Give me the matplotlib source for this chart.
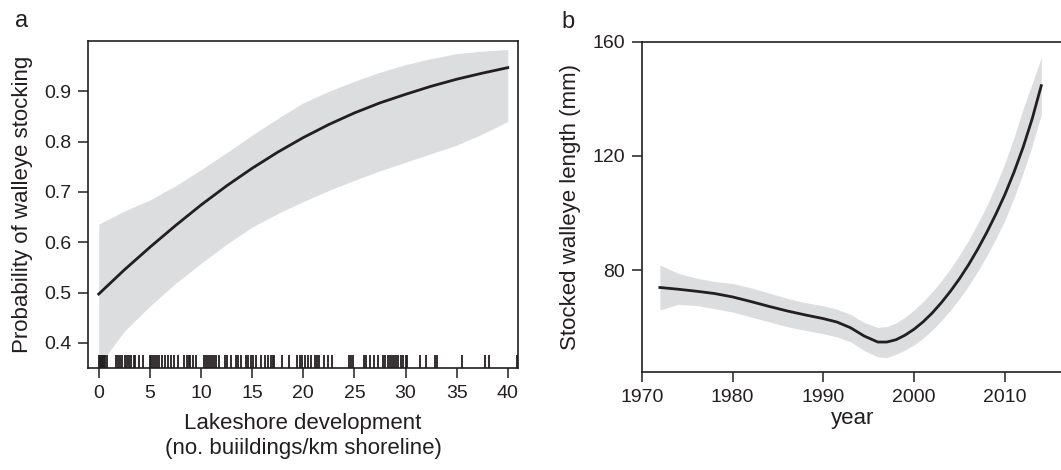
import matplotlib
matplotlib.use("Agg")
import matplotlib.pyplot as plt

plt.rcParams['font.family'] = ['Liberation Sans', 'DejaVu Sans']
ink = '#231f20'
band = '#dcdddf'

# panel a: probability of stocking vs lakeshore development
dev_x = [0, 2.5, 5, 7.5, 10, 12.5, 15, 17.5, 20, 22.5, 25, 27.5, 30, 32.5, 35, 37.5, 40]
prob_fit = [0.497, 0.545, 0.590, 0.633, 0.674, 0.712, 0.747, 0.779, 0.808, 0.834,
            0.857, 0.877, 0.894, 0.910, 0.924, 0.936, 0.947]
prob_hi = [0.636, 0.662, 0.684, 0.712, 0.744, 0.778, 0.813, 0.846, 0.877, 0.900,
           0.920, 0.938, 0.953, 0.965, 0.975, 0.980, 0.983]
prob_lo = [0.355, 0.423, 0.473, 0.518, 0.558, 0.596, 0.630, 0.657, 0.681, 0.703,
           0.723, 0.742, 0.759, 0.776, 0.793, 0.815, 0.840]
rug_x = [0.0, 0.1, 0.2, 0.3, 0.4, 0.5, 0.6, 0.8,
         1.7, 1.9, 2.1, 2.3, 2.6, 2.8, 3.0, 3.2, 3.4, 3.5, 3.9, 4.3,
         5.0, 5.1, 5.3, 5.5, 5.7, 5.9, 6.2, 6.5, 6.8, 7.1, 7.4, 7.8, 8.3, 8.6, 8.8, 8.9, 9.2, 9.5,
         10.3, 10.5, 10.7, 10.9, 11.1, 11.3, 11.5, 11.8, 12.3, 12.5, 12.9, 13.4, 13.6, 13.9,
         14.4, 14.6, 14.9, 15.1, 15.4, 15.9, 16.3, 16.6, 16.8, 17.0, 17.1, 17.9, 18.6,
         19.4, 19.7, 19.9, 20.2, 20.5, 20.8, 21.1, 21.3, 21.5, 22.0, 22.4, 22.8,
         24.5, 24.7, 24.9, 25.9, 26.1, 26.5, 26.9, 27.3, 27.8, 28.0, 28.3, 28.5, 28.7,
         28.9, 29.1, 29.3, 29.6, 29.8, 30.0, 30.1, 31.4, 32.0, 32.9, 33.1, 35.5, 37.8, 38.2,
         40.95]

# panel b: stocked walleye length by year
years = [1972, 1974, 1976, 1978, 1980, 1982, 1984, 1986, 1988, 1990, 1991.5, 1993,
         1994.5, 1996, 1997, 1998, 1999, 2000, 2001, 2002, 2003, 2004, 2005, 2006,
         2007, 2008, 2009, 2010, 2011, 2012, 2013, 2014]
len_fit = [73.9, 73.3, 72.6, 71.8, 70.6, 69.0, 67.3, 65.7, 64.3, 63.0, 61.8, 59.8,
           56.9, 54.8, 54.8, 55.6, 57.2, 59.3, 61.9, 65.0, 68.6, 72.6, 77.0, 81.9,
           87.3, 93.2, 99.6, 106.5, 114.3, 123.0, 133.0, 144.6]
len_hi = [81.8, 78.9, 77.2, 76.0, 75.3, 73.8, 72.0, 70.1, 68.6, 67.5, 66.3, 64.5,
          61.6, 59.9, 60.2, 61.5, 63.5, 66.0, 69.0, 72.5, 76.3, 80.5, 85.3, 90.5,
          96.3, 102.5, 109.7, 117.5, 126.5, 136.5, 145.3, 154.5]
len_lo = [66.0, 68.0, 67.6, 66.5, 65.3, 63.6, 61.9, 60.2, 58.9, 57.7, 56.6, 54.9,
          51.8, 49.6, 49.4, 50.5, 52.0, 53.8, 56.2, 59.0, 62.3, 66.0, 70.0, 74.5,
          79.5, 85.0, 91.0, 97.5, 105.3, 114.0, 123.5, 134.5]

fig = plt.figure(figsize=(10.61, 4.70), dpi=100)
ax1 = fig.add_axes([88 / 1061, 1 - 368 / 470, 430 / 1061, 327 / 470])
ax2 = fig.add_axes([0.6048, 0.2085, 0.3980, 0.7028])

# panel a
ax1.fill_between(dev_x, prob_lo, prob_hi, color=band, lw=0)
ax1.plot(dev_x, prob_fit, color=ink, lw=2)
ax1.vlines(rug_x, 0, 0.04, transform=ax1.get_xaxis_transform(), color=ink, lw=1.3)
ax1.set_xlim(-1.05, 41.0)
ax1.set_ylim(0.35, 1.0)
ax1.set_xticks(range(0, 41, 5))
ax1.set_yticks([0.4, 0.5, 0.6, 0.7, 0.8, 0.9])
ax1.set_xlabel("Lakeshore development\n(no. buiildings/km shoreline)", fontsize=16, color=ink,
               labelpad=8, linespacing=1.25)
ax1.set_ylabel("Probability of walleye stocking", fontsize=16, color=ink, labelpad=8)
ax1.text(-0.17, 1.06, "a", transform=ax1.transAxes, fontsize=17, color=ink, va='center')

# panel b
ax2.fill_between(years, len_lo, len_hi, color=band, lw=0)
ax2.plot(years, len_fit, color=ink, lw=2)
ax2.set_xlim(1970, 2016.5)
ax2.set_ylim(44.3, 160)
ax2.set_xticks([1970, 1980, 1990, 2000, 2010])
ax2.set_yticks([80, 120, 160])
ax2.set_xlabel("year", fontsize=16, color=ink, labelpad=2)
ax2.set_ylabel("Stocked walleye length (mm)", fontsize=16, color=ink, labelpad=8)
ax2.text(-0.19, 1.06, "b", transform=ax2.transAxes, fontsize=17, color=ink, va='center')
ax2.spines['right'].set_visible(False)

for ax in (ax1, ax2):
    for s in ax.spines.values():
        s.set_color(ink)
        s.set_linewidth(1.2)
    ax.tick_params(direction='out', length=7, width=1.1, color=ink, labelcolor=ink,
                   labelsize=14, pad=5)

fig.savefig("out.png", dpi=100)
